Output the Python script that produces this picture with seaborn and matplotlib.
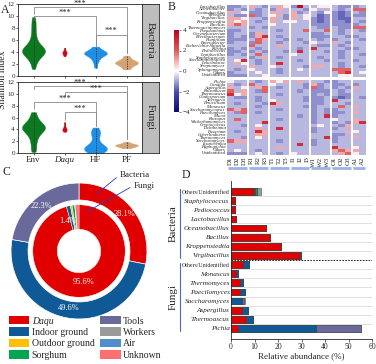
import numpy as np
import pandas as pd
import matplotlib
matplotlib.use("Agg")
import matplotlib.pyplot as plt
import seaborn as sns
from matplotlib.colors import LinearSegmentedColormap
from matplotlib.patches import Patch
from matplotlib.transforms import blended_transform_factory

W, H = 376, 364

# ---------------- A: Shannon index ----------------
groups = ["Env", "Daqu", "HF", "PF"]
group_colors = ["#0b7a1f", "#e8000b", "#1e8fe6", "#d4a373"]

bac_env = [1.2, 2.0, 2.6, 3.0, 3.3, 3.5, 3.7, 3.8, 3.9, 4.0, 4.1, 4.2, 4.2, 4.3,
           4.4, 4.5, 4.6, 4.8, 5.0, 5.3, 5.7, 6.2, 6.8, 7.5, 8.3, 9.0, 9.8]
bac_daqu = [3.3, 3.6, 3.8, 3.9, 4.0, 4.2, 4.7]
bac_hf = [1.4, 2.2, 2.7, 3.0, 3.3, 3.5, 3.6, 3.7, 3.8, 3.8, 3.9, 4.0, 4.1, 4.3, 4.6, 4.9]
bac_pf = [1.1, 1.4, 1.7, 1.9, 2.0, 2.1, 2.2, 2.3, 2.4, 2.5, 2.7, 3.0, 3.4]

fun_env = [0.2, 1.0, 1.8, 2.5, 3.0, 3.4, 3.7, 3.9, 4.1, 4.2, 4.3, 4.4, 4.5, 4.7,
           4.9, 5.2, 5.6, 6.2, 6.9]
fun_daqu = [3.6, 3.8, 3.9, 4.0, 4.1, 4.3, 4.8, 5.2]
fun_hf = [0.05, 0.2, 0.4, 0.5, 0.6, 0.7, 0.8, 0.9, 1.0, 1.2, 1.5, 2.0, 2.6, 3.2,
          3.5, 3.7, 4.3]
fun_pf = [0.8, 1.0, 1.1, 1.2, 1.3, 1.3, 1.4, 1.5, 1.6, 1.9]

# (left, right, bar height, left leg end, right leg end)
bac_brackets = [(0, 3, 11.5, 10.4, 3.8), (0, 2, 10.0, 9.4, 5.0), (2, 3, 6.9, 5.0, 3.8)]
fun_brackets = [(0, 3, 11.3, 10.8, 2.3), (1, 3, 10.3, 9.6, 2.3),
                (0, 2, 8.6, 7.4, 4.6), (1, 2, 6.9, 5.6, 4.6)]

# ---------------- B: heatmap (z-scores) ----------------
samples = ["D1", "D2", "D3", "R1", "R2", "R3", "T1", "T2", "T3", "I1", "I2", "I3",
           "W1", "W2", "W3", "O1", "O2", "O3", "A1", "A2"]
sample_group_sizes = [3, 3, 3, 3, 3, 3, 2]

bac_genera = ["Lactobacillus", "Acinetobacter", "Oceanobacillus", "Weissella",
              "Virgibacillus", "Kroppenstedtia", "Bacillus", "Thermoactinomyces",
              "Pseudomonas", "Corynebacterium", "Brevibacterium", "Planifilum",
              "Enterobacter", "Escherichia-Shigella", "Kurthia", "Pediococcus",
              "Lentibacillus", "Staphylococcus", "Saccharopolyspora", "Leuconostoc",
              "Streptomyces", "Sphingomonas", "Others", "Unidentified"]
bac_codes = ["112 421 243 172 233 211 12", "121 212 142 221 322 212 55",
             "423 112 422 412 213 101 21", "211 512 341 423 201 101 11",
             "443 221 421 423 101 100 22", "434 212 423 322 101 110 21",
             "454 222 322 222 111 111 12", "222 121 222 222 211 211 55",
             "112 222 212 225 225 212 21", "122 142 222 222 112 212 22",
             "121 146 212 222 111 221 12", "111 254 221 212 212 122 21",
             "122 152 212 221 322 421 22", "222 522 242 222 211 212 22",
             "121 212 222 212 622 221 12", "112 121 221 262 221 212 22",
             "121 252 222 322 222 212 21", "222 124 212 222 212 212 22",
             "236 212 222 212 221 222 12", "243 212 262 222 222 212 22",
             "222 422 322 221 442 212 21", "212 322 212 232 222 555 22",
             "122 232 212 222 222 256 23", "111 223 222 222 222 233 22"]

fun_genera = ["Pichia", "Candida", "Aspergillus", "Rhizomucor", "Thermoascus",
              "Cladosporium", "Alternaria", "Penicillium", "Monascus",
              "Saccharomycopsis", "Paecilomyces", "Mucor", "Rhizopus",
              "Wickerhamomyces", "Cryptococcus", "Lichtheimia", "Fusarium",
              "Cyberlindnera", "Thermomyces", "Saccharomyces", "Issatchenkia",
              "Hyphopichia", "Others", "Unidentified"]
fun_codes = ["322 212 434 242 221 122 22", "212 522 322 221 412 112 12",
             "423 245 212 221 512 121 42", "524 215 222 212 111 212 22",
             "634 222 212 222 121 211 22", "211 212 222 221 112 101 21",
             "222 212 322 221 112 622 22", "212 221 642 222 112 221 22",
             "222 212 222 221 122 252 42", "545 222 212 222 121 122 22",
             "215 212 222 222 121 112 42", "222 222 222 212 126 122 22",
             "252 222 212 222 122 322 42", "222 226 222 222 122 121 46",
             "221 232 222 222 232 214 22", "222 242 262 222 122 122 22",
             "212 264 222 222 122 224 32", "222 244 222 222 222 112 22",
             "221 232 222 222 226 122 42", "544 222 212 222 122 122 22",
             "222 222 222 262 122 222 22", "222 222 242 222 222 622 32",
             "232 212 222 222 222 454 42", "111 232 212 322 222 245 32"]
code_values = {"0": -1.7, "1": -1.25, "2": -0.8, "3": 0.2, "4": 1.0,
               "5": 1.9, "6": 3.0, "7": 3.8}

# ---------------- C: source shares ----------------
sources = ["Daqu", "Indoor ground", "Outdoor ground", "Sorghum",
           "Tools", "Workers", "Air", "Unknown"]
source_colors = ["#e00000", "#0f5a96", "#ffc000", "#00a651",
                 "#69699b", "#9a9a9a", "#4f8fcc", "#ff6f6f"]
bac_share = [28.1, 49.6, 0.0, 0.0, 22.3, 0.0, 0.0, 0.0]
fun_share = [95.6, 1.4, 0.6, 0.9, 0.0, 0.0, 0.2, 1.3]

# ---------------- D: genus abundance by source ----------------
d_genera = ["Others/Unidentified", "Staphylococcus", "Pediococcus", "Lactobacillus",
            "Oceanobacillus", "Bacillus", "Kroppenstedtia", "Virgibacillus",
            "Others/Unidentified", "Monascus", "Thermomyces", "Paecilomyces",
            "Saccharomyces", "Aspergillus", "Thermoascus", "Pichia"]
d_daqu = [9.8, 1.5, 1.6, 2.0, 14.8, 16.7, 21.2, 29.5, 5.0, 2.0, 3.8, 3.8, 0.0, 4.6, 6.2, 2.8]
d_indoor = [0.2, 0.1, 0.3, 0.2, 0.1, 0.1, 0.2, 0.1, 2.6, 1.0, 1.5, 2.2, 4.8, 2.6, 3.2, 33.2]
d_sorghum = [1.0, 0, 0, 0, 0, 0, 0, 0, 0, 0, 0, 0, 0, 0, 0, 0]
d_tools = [0.2, 0, 0, 0, 0, 0, 0, 0, 0, 0, 0, 0, 0.8, 0, 0, 19.5]
d_workers = [1.4, 0, 0, 0, 0, 0, 0, 0, 0, 0, 0, 0, 0.3, 0, 0, 0]

# ---------------- figure ----------------
sns.set_style("ticks")
plt.rcParams["font.family"] = ["Liberation Serif", "DejaVu Serif"]
plt.rcParams["axes.linewidth"] = 0.6

fig = plt.figure(figsize=(W / 100, H / 100), dpi=100)


def box(x0, y0, x1, y1):
    return [x0 / W, 1 - y1 / H, (x1 - x0) / W, (y1 - y0) / H]


def violin_panel(ax, data, brackets):
    for i, (g, vals) in enumerate(zip(groups, data)):
        sns.violinplot(x=[g] * len(vals), y=vals, order=groups, color=group_colors[i],
                       cut=0, inner=None, linewidth=0.3, linecolor=group_colors[i],
                       width=0.14 if g == "Daqu" else 0.74, bw_adjust=0.75,
                       saturation=1, ax=ax)
        ax.vlines(i, min(vals), max(vals), colors="#333333",
                  linestyles=(0, (1.6, 1.2)), lw=0.6, zorder=3)
    for x1, x2, h, l1, l2 in brackets:
        ax.plot([x1, x1, x2, x2], [l1, h, h, l2], color="#8a8a8a", lw=0.6)
        ax.text((x1 + x2) / 2, h - 0.1, "***", ha="center", va="bottom", fontsize=6)
    ax.set_xlim(-0.5, 3.5)
    ax.set_ylim(0, 12)
    ax.set_yticks(range(0, 13, 2))
    ax.set_xlabel("")
    ax.set_ylabel("")
    ax.tick_params(labelsize=5, length=1.5, width=0.5, pad=0.8)
    for s in ax.spines.values():
        s.set_visible(True)


def strip(rect, text):
    sax = fig.add_axes(rect)
    sax.set_facecolor("#bdbdbd")
    sax.set_xticks([])
    sax.set_yticks([])
    sax.text(0.5, 0.5, text, rotation=270, ha="center", va="center",
             fontsize=8, transform=sax.transAxes)


ax_a1 = fig.add_axes(box(18, 4, 142, 76))
violin_panel(ax_a1, [bac_env, bac_daqu, bac_hf, bac_pf], bac_brackets)
ax_a1.set_xticklabels([])
ax_a2 = fig.add_axes(box(18, 82, 142, 153))
violin_panel(ax_a2, [fun_env, fun_daqu, fun_hf, fun_pf], fun_brackets)
ax_a2.set_xticks(range(4))
ax_a2.set_xticklabels(groups, fontsize=6.5)
ax_a2.get_xticklabels()[1].set_fontstyle("italic")
strip(box(142, 4, 159, 76), "Bacteria")
strip(box(142, 82, 159, 153), "Fungi")
fig.text(3 / W, 1 - 80 / H, "Shannon index", rotation=90, ha="center", va="center",
         fontsize=7)

# heatmap
cmap = LinearSegmentedColormap.from_list(
    "z", [(0, "#0b0b6e"), (0.25, "#4b4bae"), (0.5, "#ffffff"), (0.75, "#e05a5a"), (1, "#c0001c")])


def decode(codes):
    rows = [c.replace(" ", "") for c in codes]
    return np.array([[code_values[ch] for ch in r] for r in rows])


bac_mat = pd.DataFrame(decode(bac_codes), index=bac_genera, columns=samples)
fun_mat = pd.DataFrame(decode(fun_codes), index=fun_genera, columns=samples)

cax = fig.add_axes(box(174, 30, 179, 112))
ax_b1 = fig.add_axes(box(227, 5, 366, 77))
sns.heatmap(bac_mat, ax=ax_b1, cmap=cmap, vmin=-4, vmax=4, linewidths=0,
            xticklabels=False, yticklabels=bac_genera,
            cbar_ax=cax, cbar_kws={"ticks": [-4, -2, 0, 2, 4]})
ax_b2 = fig.add_axes(box(227, 80, 366, 155))
sns.heatmap(fun_mat, ax=ax_b2, cmap=cmap, vmin=-4, vmax=4, linewidths=0,
            xticklabels=samples, yticklabels=fun_genera, cbar=False)

bounds = np.cumsum(sample_group_sizes)
for ax in (ax_b1, ax_b2):
    for b in bounds[:-1]:
        ax.axvline(b, color="white", lw=1.4)
    ax.tick_params(length=0, pad=1)
    for t in ax.get_yticklabels():
        t.set_fontsize(3.4)
        t.set_rotation(0)
        if t.get_text() not in ("Others", "Unidentified"):
            t.set_fontstyle("italic")
for t in ax_b2.get_xticklabels():
    t.set_fontsize(5)
    t.set_rotation(90)
trans = blended_transform_factory(ax_b2.transData, ax_b2.transAxes)
start = 0
for size in sample_group_sizes:
    ax_b2.plot([start + 0.15, start + size - 0.15], [-0.175, -0.175], color="#9db1ea",
               lw=2, transform=trans, clip_on=False, solid_capstyle="butt")
    start += size
cbar = ax_b1.collections[0].colorbar
cbar.outline.set_visible(False)
cax.tick_params(labelsize=5, length=1.5, width=0.4, pad=1)

# donut
ax_c = fig.add_axes(box(9, 181, 149, 321))
outer = [(v, c) for v, c in zip(bac_share, source_colors) if v > 0]
inner = [(v, c) for v, c in zip(fun_share, source_colors) if v > 0]
w_out, _ = ax_c.pie([v for v, _ in outer], colors=[c for _, c in outer], radius=1.0,
                    startangle=90, counterclock=False,
                    wedgeprops=dict(width=0.25, edgecolor="white", linewidth=0.5))
w_in, _ = ax_c.pie([v for v, _ in inner], colors=[c for _, c in inner], radius=0.68,
                   startangle=90, counterclock=False,
                   wedgeprops=dict(width=0.36, edgecolor="white", linewidth=0.3))
ax_c.set_xlim(-1.03, 1.03)
ax_c.set_ylim(-1.03, 1.03)


def wedge_label(w, r, text, shift=0):
    ang = np.deg2rad((w.theta1 + w.theta2) / 2 + shift)
    ax_c.text(r * np.cos(ang), r * np.sin(ang), text, color="white", fontsize=6,
              ha="center", va="center")


for w, (v, _) in zip(w_out, outer):
    wedge_label(w, 0.86, f"{v:.1f}%")
wedge_label(w_in[0], 0.46, f"{inner[0][0]:.1f}%")
wedge_label(w_in[1], 0.47, f"{inner[1][0]:.1f}%", shift=6)
ax_c.annotate("Bacteria", xy=(0.26, 0.84), xytext=(0.60, 1.12), fontsize=6.5,
              va="center", ha="left", annotation_clip=False,
              arrowprops=dict(arrowstyle="-", color="#2a3ad0", lw=0.6, relpos=(0, 0.5),
                              shrinkA=0, shrinkB=0))
ax_c.annotate("Fungi", xy=(0.12, 0.58), xytext=(0.80, 0.96), fontsize=6.5,
              va="center", ha="left", annotation_clip=False,
              arrowprops=dict(arrowstyle="-", color="#2a3ad0", lw=0.6, relpos=(0, 0.5),
                              shrinkA=0, shrinkB=0))

handles = [Patch(facecolor=c, edgecolor="none", label=s) for s, c in zip(sources, source_colors)]
leg = fig.legend(handles=handles, ncol=2, loc="upper left",
                 bbox_to_anchor=(9 / W, 1 - 316 / H), frameon=False, fontsize=7,
                 handlelength=2.1, handleheight=0.95, handletextpad=0.25,
                 columnspacing=0.6, labelspacing=0.2, borderaxespad=0, borderpad=0)
leg.get_texts()[0].set_fontstyle("italic")

# stacked bars
ax_d = fig.add_axes(box(231, 181, 372, 339))
d_table = pd.DataFrame({"row": list(range(len(d_genera))), "Daqu": d_daqu,
                        "Indoor ground": d_indoor, "Sorghum": d_sorghum,
                        "Tools": d_tools, "Workers": d_workers})
stack = ["Daqu", "Indoor ground", "Sorghum", "Tools", "Workers"]
cum = d_table[stack].cumsum(axis=1)
for src in reversed(stack):
    sns.barplot(x=cum[src], y=d_table["row"], orient="h",
                color=source_colors[sources.index(src)], saturation=1, width=0.74,
                edgecolor="#444444", linewidth=0.4, errorbar=None, ax=ax_d, zorder=2)
for k in range(len(d_genera) - 1):
    if k == 7:
        ax_d.axhline(k + 0.5, color="black", lw=0.6, ls=(0, (2, 1.5)), zorder=1)
    else:
        ax_d.axhline(k + 0.5, color="#d3d3d3", lw=0.5, zorder=1)
ax_d.set_xlim(0, 60)
ax_d.set_xticks(range(0, 61, 10))
ax_d.set_yticks(range(len(d_genera)))
ax_d.set_yticklabels(d_genera)
for t in ax_d.get_yticklabels():
    if t.get_text().startswith("Others"):
        t.set_fontsize(4.2)
    else:
        t.set_fontsize(5.2)
        t.set_fontstyle("italic")
ax_d.tick_params(axis="y", length=0, pad=1)
ax_d.tick_params(axis="x", labelsize=5.5, length=2, width=0.5, pad=1)
ax_d.set_ylabel("")
ax_d.set_xlabel("Relative abundance (%)", fontsize=6.5, labelpad=1)
sns.despine(ax=ax_d)
gtrans = blended_transform_factory(ax_d.transAxes, ax_d.transData)
for (y0, y1, label) in [(-0.3, 7.3, "Bacteria"), (7.8, 15.3, "Fungi")]:
    ax_d.plot([-0.362, -0.362], [y0, y1], color="#5060e0", lw=0.8,
              transform=gtrans, clip_on=False)
    ax_d.text(-0.41, (y0 + y1) / 2, label, rotation=90, ha="center", va="center",
              fontsize=8, transform=gtrans)

for lbl, x, y in [("A", 0.5, 10), ("B", 168, 7), ("C", 3, 172), ("D", 182, 175)]:
    fig.text(x / W, 1 - y / H, lbl, fontsize=8.5, ha="left", va="center")

fig.savefig("out.png", dpi=100)
